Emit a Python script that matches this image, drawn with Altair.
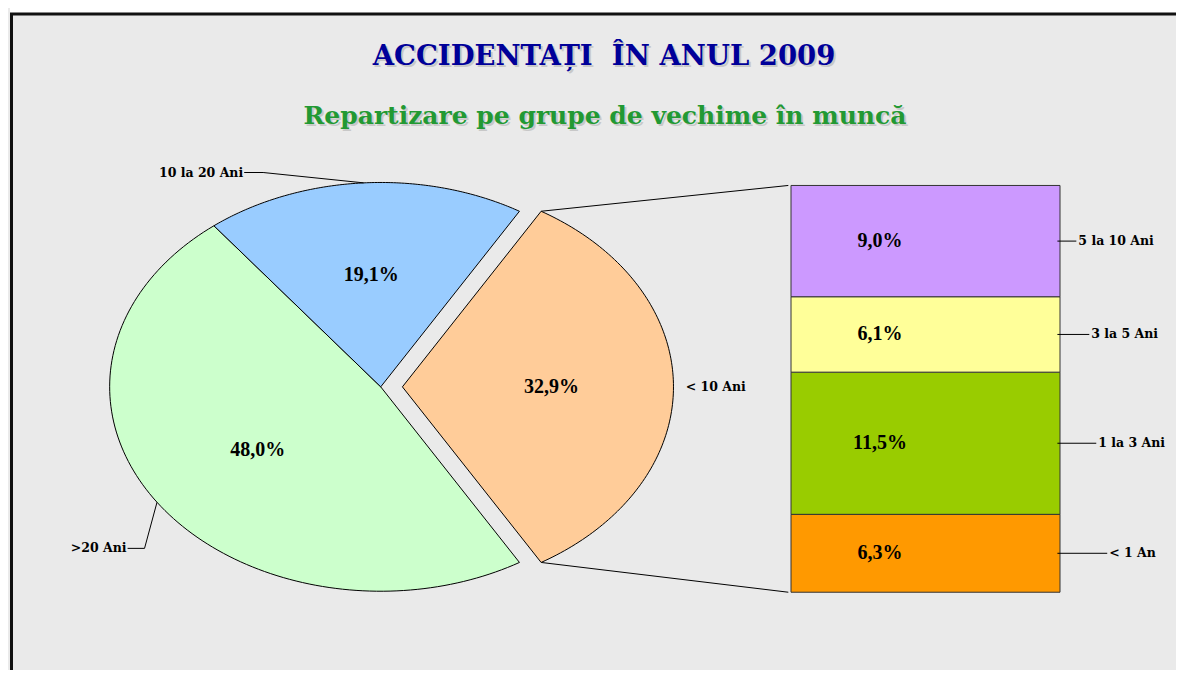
import math
import altair as alt
import pandas as pd

# ---------------- data ----------------
pie_cats = ["< 10 Ani", ">20 Ani", "10 la 20 Ani"]          # clockwise, starting with the exploded slice
pie_values = [32.9, 48.0, 19.1]
pie_colors = ["#FFCC99", "#CCFFCC", "#99CCFF"]

bar_cats = ["< 1 An", "1 la 3 Ani", "3 la 5 Ani", "5 la 10 Ani"]  # bottom to top
bar_values = [6.3, 11.5, 6.1, 9.0]
bar_colors = ["#FF9900", "#99CC00", "#FFFF99", "#CC99FF"]

TITLE = "ACCIDENTAȚI\u00a0 ÎN ANUL 2009"
SUBTITLE = "Repartizare pe grupe de vechime în muncă"

# ---------------- layout (page pixels) ----------------
OFF = 8
W, H = 1168, 662
CX, CY = 380, 388          # pie centre
RX, RY = 272, 205          # ellipse radii
EXPLODE = 0.08
BAR_X0, BAR_X1 = 789, 1058
BAR_TOP, BAR_BOTTOM = 186, 594
SERIF = "Liberation Serif"
WIDE_SERIF = "DejaVu Serif"
N = 120


def nx(px):
    return (px - CX) / RX


def ny(py):
    return (CY - py) / RY


# pie category label layout (page pixels)
pie_label_layout = pd.DataFrame({
    "cat": ["10 la 20 Ani", ">20 Ani", "< 10 Ani"],
    "elx": [nx(262), nx(143), nx(686)],
    "ely": [ny(173), ny(550), ny(388)],
    "endx": [nx(243), nx(126), nx(686)],
    "lead": [1, 1, 0],
})
bar_label_layout = pd.DataFrame({
    "cat": ["5 la 10 Ani", "3 la 5 Ani", "1 la 3 Ani", "< 1 An"],
    "labx": [1080, 1093, 1100, 1111],
})

# rotation so that the exploded slice is centred on the right
ROT = math.pi / 2 - math.pi * pie_values[0] / sum(pie_values)

pxs = alt.Scale(domain=[nx(OFF), nx(OFF + W)], nice=False, zero=False)
pys = alt.Scale(domain=[ny(OFF + H), ny(OFF)], nice=False, zero=False)

K = (BAR_BOTTOM - BAR_TOP) / sum(bar_values)
bys = alt.Scale(domain=[(BAR_BOTTOM - (OFF + H)) / K, (BAR_BOTTOM - OFF) / K], nice=False, zero=False)
bxs = alt.Scale(domain=[OFF, OFF + W], nice=False, zero=False)

pie_df = pd.DataFrame({"cat": pie_cats, "value": pie_values, "idx": list(range(len(pie_cats)))})
bar_df = pd.DataFrame({"cat": bar_cats, "value": bar_values, "idx": list(range(len(bar_cats)))})

pie_base = (
    alt.Chart(pie_df)
    .transform_joinaggregate(total="sum(value)")
    .transform_window(cum="sum(value)", sort=[alt.SortField("idx")], frame=[None, 0])
    .transform_calculate(a0=f"{ROT} + 2*PI*(datum.cum - datum.value)/datum.total")
    .transform_calculate(a1=f"{ROT} + 2*PI*datum.cum/datum.total")
    .transform_calculate(mid="(datum.a0 + datum.a1)/2")
    .transform_calculate(ex=f"datum.idx == 0 ? {EXPLODE} : 0")
    .transform_calculate(ox="datum.ex*sin(datum.mid)")
    .transform_calculate(oy="datum.ex*cos(datum.mid)")
)

slices = (
    pie_base.transform_calculate(steps=f"sequence(0, {N + 2})")
    .transform_flatten(["steps"])
    .transform_calculate(ang=f"datum.a0 + (datum.a1 - datum.a0)*(datum.steps - 1)/{N}")
    .transform_calculate(px="datum.steps == 0 ? datum.ox : datum.ox + sin(datum.ang)")
    .transform_calculate(py="datum.steps == 0 ? datum.oy : datum.oy + cos(datum.ang)")
    .mark_line(interpolate="linear-closed", filled=True, stroke="black", strokeWidth=1, opacity=1)
    .encode(
        x=alt.X("px:Q", scale=pxs, axis=None),
        y=alt.Y("py:Q", scale=pys, axis=None),
        color=alt.Color("cat:N", scale=alt.Scale(domain=pie_cats, range=pie_colors), legend=None),
        order=alt.Order("steps:Q"),
    )
)

pie_pct = (
    pie_base.transform_calculate(lx="datum.ox + 0.55*sin(datum.mid)")
    .transform_calculate(ly="datum.oy + 0.55*cos(datum.mid)")
    .transform_calculate(txt="replace(format(datum.value, '.1f'), '.', ',') + '%'")
    .mark_text(font=SERIF, fontSize=20, fontWeight="bold", color="black")
    .encode(
        x=alt.X("lx:Q", scale=pxs, axis=None),
        y=alt.Y("ly:Q", scale=pys, axis=None),
        text="txt:N",
    )
)

pie_lab_base = pie_base.transform_lookup(
    lookup="cat",
    from_=alt.LookupData(pie_label_layout, "cat", ["elx", "ely", "endx", "lead"]),
).transform_calculate(
    sx="datum.ox + sin(datum.mid)", sy="datum.oy + cos(datum.mid)"
)

lead1 = (
    pie_lab_base.transform_filter("datum.lead == 1")
    .mark_rule(color="black", strokeWidth=1)
    .encode(
        x=alt.X("sx:Q", scale=pxs, axis=None),
        y=alt.Y("sy:Q", scale=pys, axis=None),
        x2="elx:Q",
        y2="ely:Q",
    )
)
lead2 = (
    pie_lab_base.transform_filter("datum.lead == 1")
    .mark_rule(color="black", strokeWidth=1)
    .encode(
        x=alt.X("elx:Q", scale=pxs, axis=None),
        y=alt.Y("ely:Q", scale=pys, axis=None),
        x2="endx:Q",
        y2="ely:Q",
    )
)
pie_cat_right = (
    pie_lab_base.transform_filter("datum.lead == 1")
    .mark_text(font=WIDE_SERIF, fontSize=12.5, fontWeight="bold", align="right", dx=-1, color="black")
    .encode(
        x=alt.X("endx:Q", scale=pxs, axis=None),
        y=alt.Y("ely:Q", scale=pys, axis=None),
        text="cat:N",
    )
)
pie_cat_left = (
    pie_lab_base.transform_filter("datum.lead == 0")
    .mark_text(font=WIDE_SERIF, fontSize=12.5, fontWeight="bold", align="left", color="black")
    .encode(
        x=alt.X("endx:Q", scale=pxs, axis=None),
        y=alt.Y("ely:Q", scale=pys, axis=None),
        text="cat:N",
    )
)

# connectors from the exploded slice to the bar
conn_base = pie_base.transform_filter("datum.idx == 0").transform_calculate(
    tx="datum.ox + sin(datum.a0)", ty="datum.oy + cos(datum.a0)",
    bx="datum.ox + sin(datum.a1)", by="datum.oy + cos(datum.a1)",
    cx=f"{nx(BAR_X0)}", cyt=f"{ny(BAR_TOP)}", cyb=f"{ny(BAR_BOTTOM)}",
)
conn_top = conn_base.mark_rule(color="black", strokeWidth=1).encode(
    x=alt.X("tx:Q", scale=pxs, axis=None), y=alt.Y("ty:Q", scale=pys, axis=None),
    x2="cx:Q", y2="cyt:Q",
)
conn_bot = conn_base.mark_rule(color="black", strokeWidth=1).encode(
    x=alt.X("bx:Q", scale=pxs, axis=None), y=alt.Y("by:Q", scale=pys, axis=None),
    x2="cx:Q", y2="cyb:Q",
)

# bar of pie
bar_base = (
    alt.Chart(bar_df)
    .transform_window(cum="sum(value)", sort=[alt.SortField("idx")], frame=[None, 0])
    .transform_calculate(lo="datum.cum - datum.value")
    .transform_calculate(mid="datum.cum - datum.value/2")
    .transform_calculate(txt="replace(format(datum.value, '.1f'), '.', ',') + '%'")
)
bars = bar_base.mark_rect(stroke="#333333", strokeWidth=1).encode(
    x=alt.value(BAR_X0 - OFF),
    x2=alt.value(BAR_X1 - OFF),
    y=alt.Y("lo:Q", scale=bys, axis=None),
    y2="cum:Q",
    color=alt.Color("cat:N", scale=alt.Scale(domain=bar_cats, range=bar_colors), legend=None),
)
bar_pct = bar_base.mark_text(font=SERIF, fontSize=20, fontWeight="bold", color="black").encode(
    x=alt.value(878 - OFF),
    y=alt.Y("mid:Q", scale=bys, axis=None),
    text="txt:N",
)
bar_lab_base = bar_base.transform_lookup(
    lookup="cat", from_=alt.LookupData(bar_label_layout, "cat", ["labx"])
).transform_calculate(l0=f"{BAR_X1 + 1}", l1="datum.labx - 2")
bar_lead = bar_lab_base.mark_rule(color="black", strokeWidth=1).encode(
    x=alt.X("l0:Q", scale=bxs, axis=None),
    x2="l1:Q",
    y=alt.Y("mid:Q", scale=bys, axis=None),
)
bar_cat = bar_lab_base.mark_text(font=WIDE_SERIF, fontSize=12.5, fontWeight="bold", align="left", color="black").encode(
    x=alt.X("labx:Q", scale=bxs, axis=None),
    y=alt.Y("mid:Q", scale=bys, axis=None),
    text="cat:N",
)

# titles
tdf = pd.DataFrame({"t": [TITLE], "s": [SUBTITLE]})
title_shadow = alt.Chart(tdf).mark_text(font=WIDE_SERIF, fontSize=27.5, fontWeight="bold", color="#C8C8C8").encode(
    text="t:N", x=alt.value(602 - OFF + 2), y=alt.value(57 - OFF + 2))
title = alt.Chart(tdf).mark_text(font=WIDE_SERIF, fontSize=27.5, fontWeight="bold", color="#000099").encode(
    text="t:N", x=alt.value(602 - OFF), y=alt.value(57 - OFF))
sub_shadow = alt.Chart(tdf).mark_text(font=WIDE_SERIF, fontSize=25, fontWeight="bold", color="#C8C8C8").encode(
    text="s:N", x=alt.value(603 - OFF + 2), y=alt.value(116 - OFF + 2))
subtitle = alt.Chart(tdf).mark_text(font=WIDE_SERIF, fontSize=25, fontWeight="bold", color="#229933").encode(
    text="s:N", x=alt.value(603 - OFF), y=alt.value(116 - OFF))

# frame
frame_df = pd.DataFrame({"k": [1]})
top_white = alt.Chart(frame_df).mark_rect(color="white").encode(
    x=alt.value(0), x2=alt.value(W), y=alt.value(0), y2=alt.value(5))
top_line = alt.Chart(frame_df).mark_rule(color="#111111", strokeWidth=3).encode(
    x=alt.value(0), x2=alt.value(W), y=alt.value(6))
left_line = alt.Chart(frame_df).mark_rule(color="#111111", strokeWidth=3).encode(
    x=alt.value(1.5), y=alt.value(5), y2=alt.value(H))

chart = alt.layer(
    top_white, top_line, left_line,
    conn_top, conn_bot,
    slices, pie_pct, lead1, lead2, pie_cat_right, pie_cat_left,
    bars, bar_pct, bar_lead, bar_cat,
    title_shadow, title, sub_shadow, subtitle,
).resolve_scale(x="independent", y="independent", color="independent").properties(
    width=W, height=H,
    autosize=alt.AutoSizeParams(type="fit", contains="padding"),
    padding=0,
    background="#EAEAEA",
).configure_view(stroke=None)

chart.save("out.html", embed_options={"renderer": "svg", "actions": False})
